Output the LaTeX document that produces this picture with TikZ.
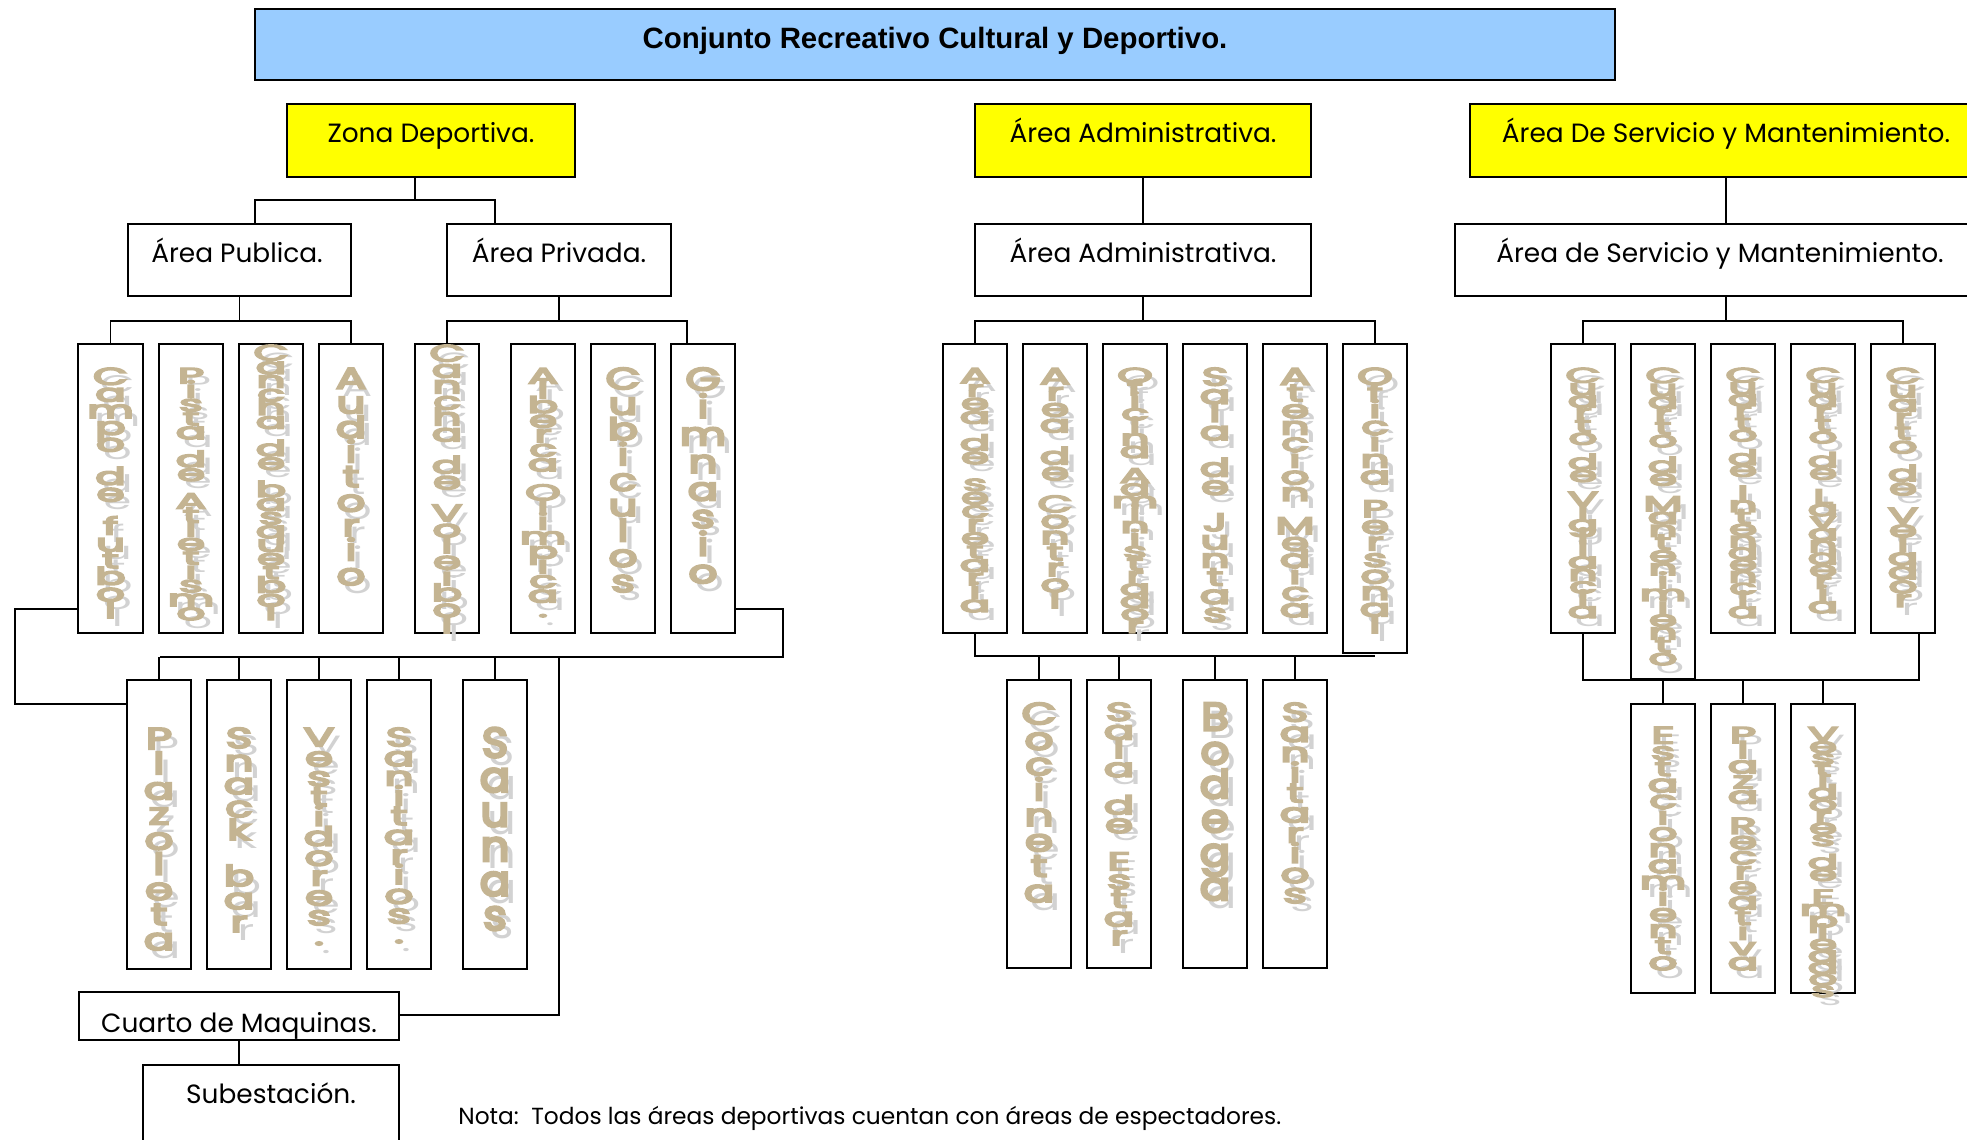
\documentclass[tikz,border=0pt]{standalone}
\usepackage{fontspec}
\usepackage{graphicx}
\setmainfont{Poppins}
\newfontfamily\titlefont{Liberation Sans}
\usetikzlibrary{fit}
\definecolor{titlebl}{RGB}{153,204,255}
\definecolor{yel}{RGB}{255,255,0}
\definecolor{wtan}{RGB}{196,180,146}
\definecolor{wshad}{RGB}{210,210,210}
\newcommand\vwbold[1]{\special{pdf:literal direct 2 Tr 0.9 w}#1\special{pdf:literal direct 0 Tr}}
\tikzset{
  bx/.style={draw=black, line width=0.9pt, fill=white, inner sep=0pt},
  ybx/.style={bx, fill=yel},
  con/.style={line width=0.9pt, draw=black},
  lab/.style={anchor=base, inner sep=0pt, font=\fontsize{13.2}{15}\selectfont},
  vlt/.style={anchor=base, inner sep=0pt, text=wtan, font=\fontsize{14}{14}\selectfont},
  vsh/.style={anchor=base, inner sep=0pt, text=wshad, font=\fontsize{14}{14}\selectfont},
}
\newcount\vwcnt
\newcount\vwn
\def\vwcountloop#1{\ifx#1\relax\else\advance\vwn by 1 \expandafter\vwcountloop\fi}
\def\vwloop#1{\ifx#1\relax\else
  \node[\vwstyle] at ({\vwx+\vwdx},{\vwb+\vwp*\the\vwcnt+\vwdy}) {\scalebox{1.6}[\vwys]{\vwwrap{#1}}};
  \advance\vwcnt by 1
  \expandafter\vwloop\fi}
% #1 optional yscale, #2 x centre, #3 top of first letter, #4 bottom of last letter, #5 text
\newcommand\vword[5][-1]{%
  \vwn=0 \vwcountloop#5\relax
  \pgfmathsetmacro\vwpz{(#4-#3-20)/(\the\vwn-1)}%
  \ifdim #1pt<0pt \pgfmathsetmacro\vwys{min(1.3,0.45+\vwpz/40)}\else\def\vwys{#1}\fi
  \pgfmathsetmacro\vwb{#3+19.5*\vwys}%
  \pgfmathsetmacro\vwp{(#4-\vwb)/(\the\vwn-1)}%
  \def\vwx{#2}%
  \def\vwstyle{vsh}\def\vwdx{7}\def\vwdy{8}\let\vwwrap\relax\vwcnt=0 \vwloop#5\relax
  \def\vwstyle{vlt}\def\vwdx{0}\def\vwdy{0}\let\vwwrap\vwbold\vwcnt=0 \vwloop#5\relax}
\begin{document}
\begin{tikzpicture}[x=0.5pt, y=-0.5pt]
\useasboundingbox (0,0) rectangle (1967,1140);
\clip (0,0) rectangle (1967,1140);

% ---------- top level ----------
\node[bx, fill=titlebl, fit={(255,9) (1615,80)}] (title) {};
\node[anchor=base, inner sep=0pt, font=\titlefont\bfseries\fontsize{14.7}{17}\selectfont] (titletxt) at (935,48) {Conjunto Recreativo Cultural y Deportivo.};

\node[ybx, fit={(287,104) (575,177)}] (zona) {};
\node[lab] (zonatxt) at (431,142) {Zona Deportiva.};
\node[ybx, fit={(975,104) (1311,177)}] (adm) {};
\node[lab] (admtxt) at (1143,142) {Área Administrativa.};
\node[ybx, fit={(1470,104) (1982,177)}] (serv) {};
\node[lab] (servtxt) at (1726,142) {Área De Servicio y Mantenimiento.};

\node[bx, fit={(128,224) (351,296)}] (publica) {};
\node[lab] (publicatxt) at (237,262) {Área Publica.};
\node[bx, fit={(447,224) (671,296)}] (privada) {};
\node[lab] (privadatxt) at (559,262) {Área Privada.};
\node[bx, fit={(975,224) (1311,296)}] (adm2) {};
\node[lab] (adm2txt) at (1143,262) {Área Administrativa.};
\node[bx, fit={(1455,224) (1997,296)}] (serv2) {};
\node[lab] (serv2txt) at (1720,262) {Área de Servicio y Mantenimiento.};

% ---------- vertical boxes ----------
\node[bx, fit={(78,344) (143,633)}] (campo) {};
\node[bx, fit={(159,344) (223,633)}] (pista) {};
\node[bx, fit={(239,344) (303,633)}] (basq) {};
\node[bx, fit={(319,344) (383,633)}] (audit) {};
\node[bx, fit={(415,344) (479,633)}] (volei) {};
\node[bx, fit={(511,344) (575,633)}] (alber) {};
\node[bx, fit={(591,344) (655,633)}] (cubic) {};
\node[bx, fit={(671,344) (735,633)}] (gimn) {};

\node[bx, fit={(127,680) (191,969)}] (plaz) {};
\node[bx, fit={(207,680) (271,969)}] (snack) {};
\node[bx, fit={(287,680) (351,969)}] (vest) {};
\node[bx, fit={(367,680) (431,969)}] (sanit) {};
\node[bx, fit={(463,680) (527,969)}] (saun) {};

\node[bx, fit={(943,344) (1007,633)}] (asec) {};
\node[bx, fit={(1023,344) (1087,633)}] (acon) {};
\node[bx, fit={(1103,344) (1167,633)}] (oadm) {};
\node[bx, fit={(1183,344) (1247,633)}] (sjun) {};
\node[bx, fit={(1263,344) (1327,633)}] (amed) {};
\node[bx, fit={(1343,344) (1407,653)}] (oper) {};

\node[bx, fit={(1007,680) (1071,968)}] (coci) {};
\node[bx, fit={(1087,680) (1151,968)}] (sest) {};
\node[bx, fit={(1183,680) (1247,968)}] (bode) {};
\node[bx, fit={(1263,680) (1327,968)}] (sanitb) {};

\node[bx, fit={(1551,344) (1615,633)}] (cvig) {};
\node[bx, fit={(1631,344) (1695,679)}] (cman) {};
\node[bx, fit={(1711,344) (1775,633)}] (cint) {};
\node[bx, fit={(1791,344) (1855,633)}] (clav) {};
\node[bx, fit={(1871,344) (1935,633)}] (cvel) {};

\node[bx, fit={(1631,704) (1695,993)}] (esta) {};
\node[bx, fit={(1711,704) (1775,993)}] (plrec) {};
\node[bx, fit={(1791,704) (1855,993)}] (vemp) {};

\node[bx, fit={(79,992) (399,1040)}] (maq) {};
\node[bx, fit={(143,1065) (399,1160)}] (sube) {};

% ---------- connectors ----------
\draw[con] (zona.south -| 415,0) -- (415,200);
\draw[con] (publica.north -| 255,0) -- (255,200) -- (495,200) -- (privada.north -| 495,0);
\draw[con] (adm.south) -- (adm2.north);
\draw[con] (serv.south -| 1726,0) -- (serv2.north -| 1726,0);

\draw[con] (publica.south) -- (publica.south |- 0,321);
\draw[con] (campo.north) -- (campo.north |- 0,321) -- (audit.north |- 0,321) -- (audit.north);
\draw[con] (privada.south) -- (privada.south |- 0,321);
\draw[con] (volei.north) -- (volei.north |- 0,321) -- (687,321) -- (gimn.north -| 687,0);
\draw[con] (adm2.south) -- (adm2.south |- 0,321);
\draw[con] (asec.north) -- (asec.north |- 0,321) -- (oper.north |- 0,321) -- (oper.north);
\draw[con] (serv2.south -| 1726,0) -- (1726,321);
\draw[con] (cvig.north) -- (cvig.north |- 0,321) -- (cvel.north |- 0,321) -- (cvel.north);

\draw[con] (campo.west |- 0,609) -- (15,609) -- (15,704) -- (plaz.west |- 0,704);
\draw[con] (gimn.east |- 0,609) -- (783,609) -- (783,657) -- (160,657);
\foreach \n in {plaz,snack,vest,sanit,saun} \draw[con] (\n.north) -- (\n.north |- 0,657);
\draw[con] (559,657) -- (559,1015) -- (maq.east |- 0,1015);
\draw[con] (maq.south) -- (maq.south |- sube.north);

\draw[con] (asec.south) -- (asec.south |- 0,656) -- (1375,656);
\foreach \n in {coci,sest,bode,sanitb} \draw[con] (\n.north) -- (\n.north |- 0,656);

\draw[con] (cvig.south) -- (cvig.south |- 0,680) -- (1919,680) -- (cvel.south -| 1919,0);
\foreach \n in {esta,plrec,vemp} \draw[con] (\n.north) -- (\n.north |- 0,680);

% ---------- labels ----------
\begin{scope}
\clip (maq.south west) rectangle (maq.north east);
\node[lab] (maqtxt) at (239,1032) {Cuarto de Maquinas.};
\end{scope}
\node[lab] (subetxt) at (271,1103) {Subestación.};
\node[lab, anchor=base west, font=\fontsize{11.65}{14}\selectfont] (nota) at (458,1124) {Nota:\ \ Todos las áreas deportivas cuentan con áreas de espectadores.};

% ---------- vertical words ----------
\vword{110.5}{368}{618}{Campo~de~futbol}
\vword{191}{368}{620}{Pista~de~Atletismo}
\vword{271}{345}{620}{Cancha~de~basquetbol}
\vword{351}{368}{585}{Auditorio}
\vword{447}{345}{633}{Cancha~de~Voleibol}
\vword{543}{368}{617}{Alberca~Olimpica.}
\vword{623}{368}{592}{Cubiculos}
\vword{703}{368}{583}{Gimnasio}

\vword{159}{728}{950}{Plazoleta}
\vword{239}{728}{932}{Snack~bar}
\vword{319}{728}{945}{Vestidores.}
\vword{399}{728}{943}{Sanitarios.}
\vword[1.5]{495}{728}{930}{Saunas}

\vword{975}{368}{612}{Area~de~secretaria}
\vword{1055}{368}{608}{Area~de~Control}
\vword{1135}{368}{633}{Oficina~Administrador}
\vword{1215}{368}{622}{Sala~de~Juntas}
\vword{1295}{368}{617}{Atencion~Medica}
\vword{1375}{368}{633}{Oficina~Personal}

\vword{1039}{703}{902}{Cocineta}
\vword{1119}{703}{945}{Sala~de~Estar}
\vword[1.4]{1215}{703}{900}{Bodega}
\vword{1295}{703}{903}{Sanitarios}

\vword{1583}{368}{618}{Cuarto~de~Vigilancia}
\vword{1663}{368}{665}{Cuarto~de~Mantenimiento}
\vword{1743}{368}{618}{Cuarto~de~Intendencia}
\vword{1823}{368}{613}{Cuarto~de~Lavanderia}
\vword{1903}{368}{607}{Cuarto~de~Velador}

\vword{1663}{727}{970}{Estacionamiento}
\vword{1743}{727}{970}{Plaza~Recreativa}
\vword{1823}{727}{997}{Vestidores~de~Empleados}
\end{tikzpicture}
\end{document}
